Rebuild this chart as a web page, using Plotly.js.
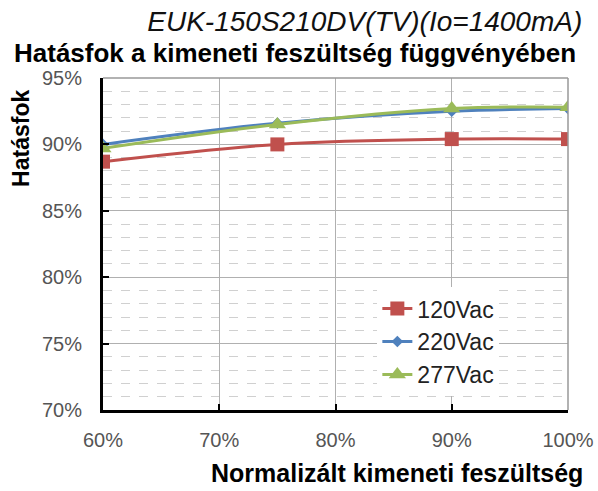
<!DOCTYPE html>
<html><head><meta charset="utf-8">
<script src="https://cdn.plot.ly/plotly-3.0.1.min.js"></script>
<style>html,body{margin:0;padding:0;background:#fff}#c{width:598px;height:491px}</style>
</head><body><div id="c"></div>
<script>
const xVals = [0.60, 0.75, 0.90, 1.00];
const v120 = [0.887, 0.900, 0.904, 0.904];
const v220 = [0.900, 0.916, 0.925, 0.927];
const v277 = [0.897, 0.915, 0.927, 0.928];
const seriesNames = ['120Vac', '220Vac', '277Vac'];
const xTicks = [0.6, 0.7, 0.8, 0.9, 1.0];
const yTicks = [0.70, 0.75, 0.80, 0.85, 0.90, 0.95];

const font = 'Liberation Sans, Arial, sans-serif';
const traces = [
  {x: xVals, y: v120, name: seriesNames[0], mode: 'lines+markers',
   line: {color: '#C0504D', width: 3, shape: 'spline'},
   marker: {symbol: 'square', size: 14, color: '#C0504D'}},
  {x: xVals, y: v220, name: seriesNames[1], mode: 'lines+markers',
   line: {color: '#4F81BD', width: 3, shape: 'spline'},
   marker: {symbol: 'diamond', size: 9, color: '#4F81BD'}},
  {x: xVals, y: v277, name: seriesNames[2], mode: 'lines+markers',
   line: {color: '#9BBB59', width: 3, shape: 'spline'},
   marker: {symbol: 'triangle-up', size: 15, color: '#9BBB59'}}
];

const layout = {
  width: 598, height: 491,
  margin: {l: 103, r: 30, t: 78, b: 81},
  paper_bgcolor: '#fff', plot_bgcolor: '#fff',
  showlegend: true,
  legend: {x: 0.59, y: 0.37, xanchor: 'left', yanchor: 'top',
    bgcolor: '#fff', font: {family: font, size: 23, color: '#222'},
    tracegroupgap: 0},
  title: {text: 'EUK-150S210DV(TV)(Io=1400mA)', x: 0.61, xanchor: 'center', y: 0.957, yanchor: 'middle',
    font: {family: font, size: 28, color: '#111', style: 'italic'}},
  annotations: [
    {text: '<b>Hatásfok a kimeneti feszültség függvényében</b>', xref: 'paper', yref: 'paper',
     x: 0.413, y: 1.0, xanchor: 'center', yanchor: 'bottom', yshift: 8, showarrow: false,
     font: {family: font, size: 26, color: '#000'}},
    {text: '<b>Normalizált kimeneti feszültség</b>', xref: 'paper', yref: 'paper',
     x: 0.632, y: -0.19, xanchor: 'center', yanchor: 'middle', showarrow: false,
     font: {family: font, size: 25, color: '#000'}},
    {text: '<b>Hatásfok</b>', xref: 'paper', yref: 'paper', textangle: -90,
     x: -0.176, y: 0.817, xanchor: 'center', yanchor: 'middle', showarrow: false,
     font: {family: font, size: 23, color: '#000'}}
  ],
  xaxis: {
    range: [0.6, 1.0], tickvals: xTicks, tickformat: '.0%',
    showgrid: true, gridcolor: '#b0b0b0', gridwidth: 1,
    showline: true, linecolor: '#000', linewidth: 3, mirror: false,
    ticks: 'inside', ticklen: 6, tickwidth: 2, tickcolor: '#000',
    tickfont: {family: font, size: 20, color: '#555'},
    ticklabelstandoff: 10, zeroline: false
  },
  yaxis: {
    range: [0.70, 0.95], tickvals: yTicks, tickformat: '.0%',
    showgrid: true, gridcolor: '#b0b0b0', gridwidth: 1,
    minor: {dtick: 0.01, showgrid: true, gridcolor: '#d0d0d0', griddash: 'dash', gridwidth: 1},
    showline: true, linecolor: '#000', linewidth: 3,
    ticks: 'inside', ticklen: 6, tickwidth: 2, tickcolor: '#000',
    tickfont: {family: font, size: 20, color: '#555'},
    ticklabelstandoff: 14, zeroline: false
  },
  shapes: [
    {type: 'line', xref: 'paper', yref: 'paper', x0: 0, x1: 1, y0: 1, y1: 1, line: {color: '#999', width: 1.5}},
    {type: 'line', xref: 'paper', yref: 'paper', x0: 1, x1: 1, y0: 0, y1: 1, line: {color: '#999', width: 1.5}}
  ]
};
Plotly.newPlot('c', traces, layout, {displayModeBar: false, staticPlot: true});
</script></body></html>
